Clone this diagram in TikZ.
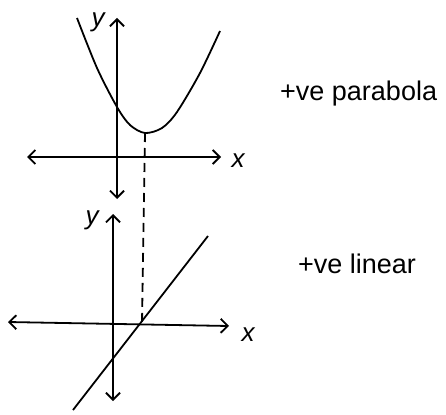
\documentclass[tikz,border=0pt]{standalone}
\usepackage{fontspec}
\setmainfont{Liberation Sans}
\usetikzlibrary{arrows.meta}
\begin{document}
\begin{tikzpicture}[x=1pt,y=-1pt,
  axis/.style={line width=1.8pt,{Straight Barb[length=7pt,width=14pt,line width=1.8pt]}-{Straight Barb[length=7pt,width=14pt,line width=1.8pt]}},
  curve/.style={line width=1.8pt},
  guide/.style={line width=1.8pt,dash pattern=on 9pt off 6pt},
  lbl/.style={font=\fontsize{26}{28}\selectfont\itshape,inner sep=0pt},
  note/.style={font=\fontsize{27}{29}\selectfont,inner sep=0pt,anchor=west}]
\useasboundingbox (0,0) rectangle (446,414);
% top graph
\coordinate (ty1) at (117,18);
\coordinate (ty2) at (117,199);
\coordinate (tx1) at (27,157);
\coordinate (tx2) at (221,157);
\coordinate (vertex) at (145,133);
\draw[axis] (ty2) -- (ty1);
\draw[axis] (tx1) -- (tx2);
\draw[curve] plot[smooth] coordinates {(77,18) (97,68) (117,107) (130,125) (145,133) (162,128) (177,112) (200,73) (220,31)};
\node[lbl] (ylab1) at (98,22) {y};
\node[lbl] (xlab1) at (238,161) {x};
% bottom graph
\coordinate (by1) at (113,214);
\coordinate (by2) at (113,401);
\coordinate (bx1) at (8,322);
\coordinate (bx2) at (229,326);
\coordinate (cross) at (142,323);
\coordinate (l1) at (73,410);
\coordinate (l2) at (208,236);
\draw[axis] (by2) -- (by1);
\draw[axis] (bx1) -- (bx2);
\draw[curve] (l1) -- (l2);
\node[lbl] (ylab2) at (92,220) {y};
\node[lbl] (xlab2) at (248,335) {x};
% dashed guide
\draw[guide] (vertex) -- (cross);
% notes
\node[note] (n1) at (280,94) {+ve parabola};
\node[note] (n2) at (298,264) {+ve linear};
\end{tikzpicture}
\end{document}
